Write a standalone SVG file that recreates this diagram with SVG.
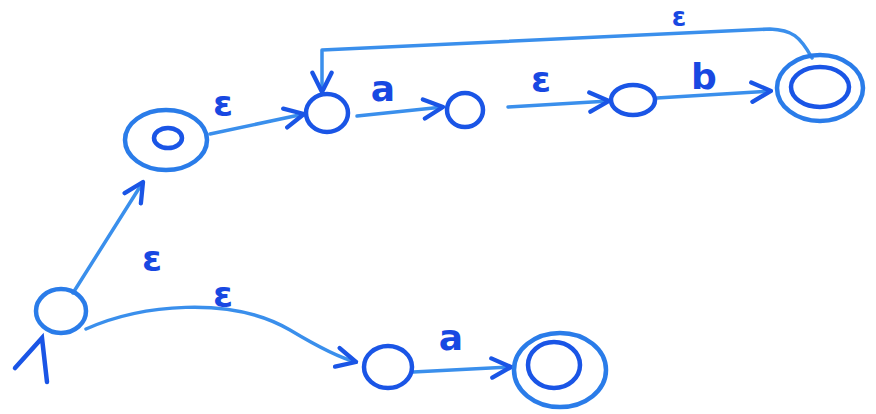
<svg xmlns="http://www.w3.org/2000/svg" width="876" height="414" viewBox="0 0 876 414">
<defs>
<style>
.bg{fill:#ffffff}
.st{fill:none;stroke:#2a7ce9;stroke-width:4.5;stroke-linecap:round;stroke-linejoin:round}
.in{fill:none;stroke:#1a55e6;stroke-width:4.5;stroke-linecap:round}
.ed{fill:none;stroke:#3a8fec;stroke-width:3.5;stroke-linecap:round;stroke-linejoin:round}
.lb{font-family:"DejaVu Sans",sans-serif;font-size:36px;font-weight:bold;fill:#1848e2;text-anchor:middle}
.sm{font-size:26px}
</style>
<marker id="ah" viewBox="0 0 10 10" refX="9" refY="5" markerUnits="userSpaceOnUse" markerWidth="24" markerHeight="24" orient="auto">
<path d="M1,1 L9,5 L1,9" fill="none" stroke="#1a55e6" stroke-width="1.8" stroke-linecap="round" stroke-linejoin="round"/>
</marker>
</defs>
<rect class="bg" width="876" height="414"/>
<g id="connectors">
<polyline class="in" points="15,368 42,338 47,382"/>
<path class="ed" d="M73,293 L143,182" marker-end="url(#ah)"/>
<path class="ed" d="M86,329 C140,305 230,295 290,330 C320,348 340,358 356,362" marker-end="url(#ah)"/>
<path class="ed" d="M210,134 L304,114" marker-end="url(#ah)"/>
<path class="ed" d="M357,116 L443,107" marker-end="url(#ah)"/>
<path class="ed" d="M508,107 L609,101" marker-end="url(#ah)"/>
<path class="ed" d="M657,98 L771,91" marker-end="url(#ah)"/>
<path class="ed" d="M812,58 C800,36 792,30 770,29 L322,50 L322,92" marker-end="url(#ah)"/>
<path class="ed" d="M413,372 L511,367" marker-end="url(#ah)"/>
<text class="lb" x="223" y="116">ε</text>
<text class="lb" x="383" y="101">a</text>
<text class="lb" x="541" y="92">ε</text>
<text class="lb" x="704" y="89">b</text>
<text class="lb sm" x="679" y="26">ε</text>
<text class="lb" x="152" y="271">ε</text>
<text class="lb" x="223" y="307">ε</text>
<text class="lb" x="451" y="350">a</text>
</g>
<g id="q0"><ellipse class="st" cx="61" cy="311" rx="25" ry="22"/></g>
<g id="q1"><ellipse class="st" cx="166" cy="140" rx="41" ry="30"/><ellipse class="in" cx="168" cy="138" rx="14" ry="10"/></g>
<g id="q2"><ellipse class="in" cx="327" cy="113" rx="21" ry="19"/></g>
<g id="q3"><ellipse class="in" cx="465" cy="110" rx="18" ry="17"/></g>
<g id="q4"><ellipse class="in" cx="633" cy="100" rx="22" ry="15"/></g>
<g id="q5"><ellipse class="st" cx="820" cy="88" rx="43" ry="33"/><ellipse class="in" cx="820" cy="87" rx="29" ry="20"/></g>
<g id="q6"><ellipse class="in" cx="388" cy="367" rx="24" ry="21"/></g>
<g id="q7"><ellipse class="st" cx="560" cy="370" rx="46" ry="37"/><ellipse class="in" cx="554" cy="365" rx="26" ry="23"/></g>
</svg>
